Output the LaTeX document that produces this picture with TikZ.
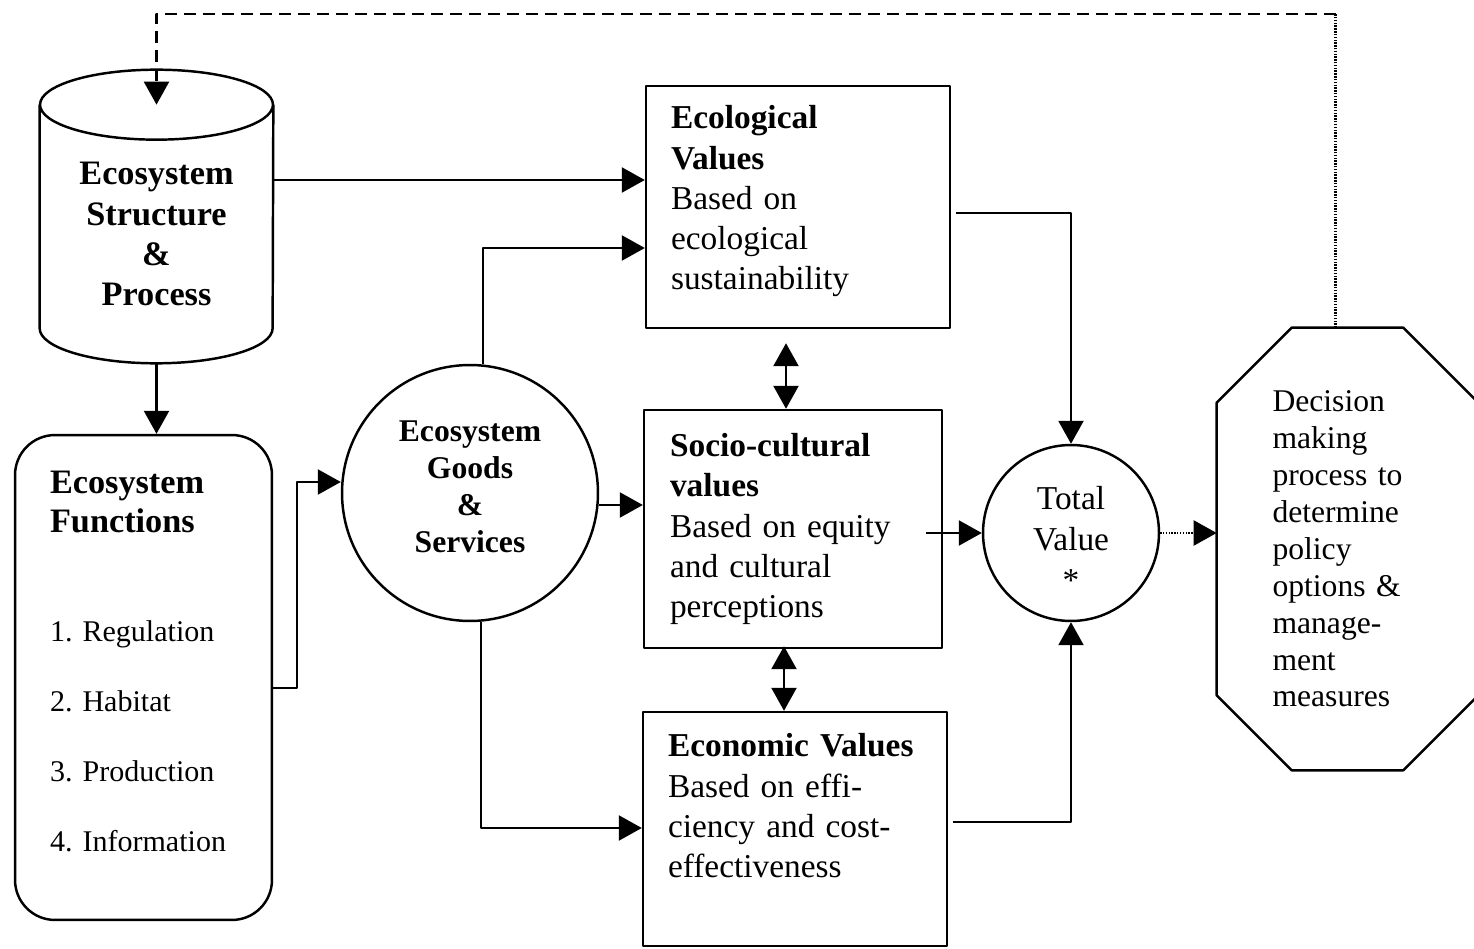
\documentclass[tikz,border=0pt]{standalone}
\usepackage{fontspec}
\setmainfont{Liberation Serif}
\usetikzlibrary{arrows.meta,calc}
\tikzset{
  arr/.style={line width=1.3pt,-{Triangle[length=0.46cm,width=0.5cm]}},
  biarr/.style={line width=1.3pt,{Triangle[length=0.46cm,width=0.5cm]}-{Triangle[length=0.46cm,width=0.5cm]}},
  dotline/.style={line width=1.3pt,dash pattern=on 0.8pt off 0.8pt},
  dashline/.style={dash pattern=on 0.24cm off 0.14cm},
  valbox/.style={draw,line width=1.4pt,rectangle,align=left,inner xsep=0.5cm,text width=5.08cm,font=\fontsize{19}{22.8}\selectfont},
}
\begin{document}
\begin{tikzpicture}[x=0.02cm,y=-0.02cm,line join=round]
\useasboundingbox (0,0) rectangle (1474,949);
% structure & process (cylinder)
\node[minimum width=4.66cm,minimum height=5.16cm,align=center,font=\fontsize{19.5}{22.8}\selectfont\bfseries] (struct) at (156.5,234) {Ecosystem\\Structure\\\&\\Process};
\draw[line width=1.4pt] (struct.north) ellipse [x radius=2.33cm,y radius=0.7cm];
\draw[line width=1.4pt] (struct.north west) -- ($(struct.south west)+(0,-35)$) arc[start angle=180,end angle=360,x radius=2.33cm,y radius=0.7cm] -- (struct.north east);
% functions
\node[draw,line width=1.4pt,rounded corners=0.8cm,minimum width=5.14cm,minimum height=9.7cm,inner xsep=0.7cm,text width=3.74cm,align=left,font=\fontsize{17.1}{22.2}\selectfont\frenchspacing] (func) at (143.5,677.5)
  {{\fontsize{19.5}{22.2}\selectfont\bfseries Ecosystem\\Functions}\\[40pt]1. Regulation\\[17.6pt]2. Habitat\\[17.6pt]3. Production\\[17.6pt]4. Information\\[-4pt]\mbox{}};
% goods & services
\node[draw,circle,line width=1.4pt,minimum size=5.12cm,align=center,font=\fontsize{18}{21}\selectfont\bfseries] (goods) at (470,493) {Ecosystem\\Goods\\\&\\Services\\[-14pt]\mbox{}};
% value boxes
\node[valbox,minimum height=4.84cm] (eco) at (798,207) {\textbf{Ecological}\\\textbf{Values}\\Based on\\ecological\\sustainability\\[-12pt]\mbox{}};
\node[valbox,text width=4.92cm,inner xsep=0.52cm,minimum height=4.76cm] (socio) at (793,529) {\textbf{Socio-cultural}\\\textbf{values}\\Based on equity\\and cultural\\perceptions};
\node[valbox,minimum height=4.68cm] (econ) at (795,829) {\textbf{Economic Values}\\Based on effi-\\ciency and cost-\\effectiveness\\[4pt]\mbox{}};
% total value
\node[draw,circle,line width=1.4pt,minimum size=3.52cm,align=center,font=\fontsize{19}{23.3}\selectfont] (total) at (1071,533) {\mbox{}\\[-3.5pt]Total\\Value\\*};
% decision (octagon)
\node[minimum width=5.22cm,minimum height=8.84cm,text width=3cm,align=left,font=\fontsize{18}{21}\selectfont] (decide) at (1347.5,549)
  {Decision\\making\\process to\\determine\\policy\\options \&\\manage-\\ment\\measures};
\draw[line width=1.4pt] ($(decide.north west)+(75,0)$) -- ($(decide.north east)+(-75,0)$) -- ($(decide.north east)+(0,75)$) -- ($(decide.south east)+(0,-75)$)
  -- ($(decide.south east)+(-75,0)$) -- ($(decide.south west)+(75,0)$) -- ($(decide.south west)+(0,-75)$) -- ($(decide.north west)+(0,75)$) -- cycle;
% connectors
\draw[arr] (struct.south) -- (struct.south |- func.north);
\draw[arr] (struct.east |- 0,180) -- (eco.west |- 0,180);
\draw[arr] (func.east |- 0,688) -- ++(24,0) |- (goods.west |- 0,482);
\draw[arr] ([xshift=0.26cm]goods.north) |- (eco.west |- 0,248);
\draw[arr] (goods.east |- 0,505) -- (socio.west |- 0,505);
\draw[arr] ([xshift=0.22cm]goods.south) |- (econ.west |- 0,828);
\draw[biarr] ($(eco.south)+(-12,14)$) -- ($(socio.north)+(-7,0)$);
\draw[biarr] ($(socio.south)+(-9,-3)$) -- ($(econ.north)+(-11,0)$);
\draw[arr] ($(eco.east)+(5,6)$) -| (total.north);
\draw[arr] ($(socio.east)+(-17,4)$) -- (total.west);
\draw[arr] ($(econ.east)+(5,-7)$) -| (total.south);
\draw[arr,dotline] (total.east) -- (decide.west |- total.east);
% feedback
\coordinate (fbtop) at ($(decide.north)+(-12,-314)$);
\draw[dotline] ($(decide.north)+(-12,0)$) -- (fbtop);
\draw[arr,dashline] (fbtop) -| (struct.north);
\end{tikzpicture}
\end{document}
